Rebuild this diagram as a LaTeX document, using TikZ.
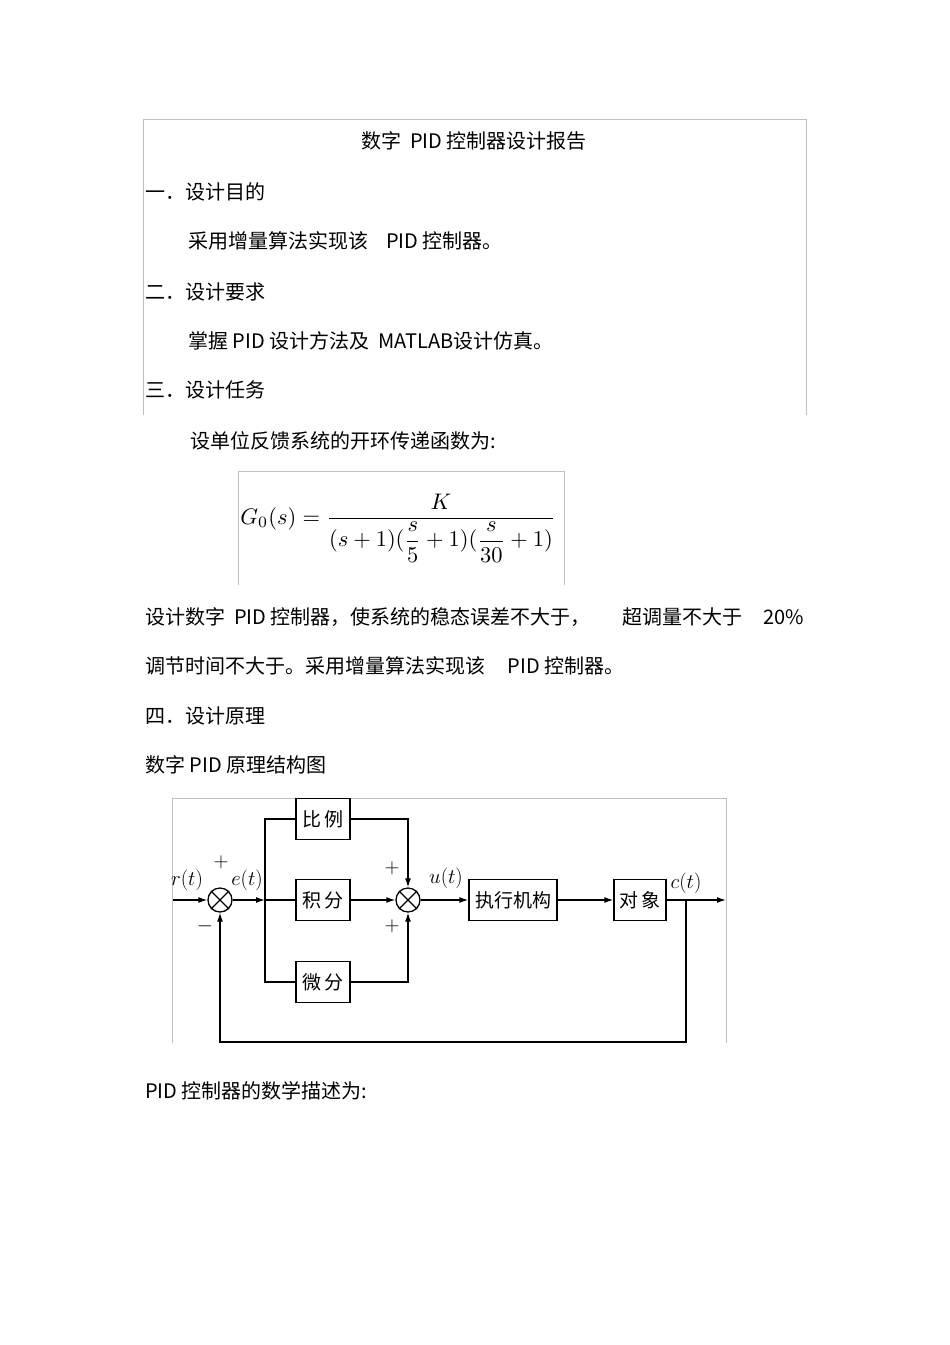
\documentclass[tikz,border=0pt]{standalone}
\usepackage{fontspec}
\setmainfont{Liberation Serif}
\newfontfamily\cjk{Noto Sans CJK SC}
\usetikzlibrary{arrows.meta}
\begin{document}
\begin{tikzpicture}[x=1pt,y=-1pt,
  txt/.style={anchor=west,inner sep=0,font=\cjk\fontsize{20}{22}\selectfont},
  blk/.style={draw,line width=1.3pt,minimum width=54pt,minimum height=41pt,inner sep=0,font=\cjk\fontsize{19}{22}\selectfont},
  sumj/.style={draw,circle,line width=1.3pt,minimum size=24pt,inner sep=0},
  sig/.style={line width=1.3pt,-{Latex[length=9pt,width=6pt]}},
  ln/.style={line width=1.3pt},
  lab/.style={inner sep=0,font=\fontsize{20}{22}\selectfont},
  frame/.style={draw=black!25,line width=0.6pt}]
\useasboundingbox[fill=white] (0,0) rectangle (950,1345);
\draw[frame] (143,415) -- (143,119) -- (806,119) -- (806,415);
\node[inner sep=0,font=\cjk\fontsize{20}{22}\selectfont] (title) at (474,141) {数字\ \ PID 控制器设计报告};
\node[txt] (h1) at (145,192) {一．设计目的};
\node[txt] (p1) at (188,241) {采用增量算法实现该\ \ \ \ PID 控制器。};
\node[txt] (h2) at (145,292) {二．设计要求};
\node[txt] (p2) at (188,341) {掌握\ PID 设计方法及\ \ MATLAB设计仿真。};
\node[txt] (h3) at (145,390) {三．设计任务};
\node[txt] (p3) at (190,441) {设单位反馈系统的开环传递函数为:};
\draw[frame] (238,585) -- (238,471) -- (564,471) -- (564,585);
\node[inner sep=0] (eq) at (398,528)
  {\resizebox{315pt}{!}{$\displaystyle G_0(s)=\frac{K}{(s+1)(\displaystyle\frac{s}{5}+1)(\displaystyle\frac{s}{30}+1)}$}};
\node[txt] (p4a) at (145,617) {设计数字\ \ PID 控制器，使系统的稳态误差不大于，};
\node[txt] (p4b) at (622,617) {超调量不大于};
\node[txt] (p4c) at (763,617) {20\%};
\node[txt] (p5) at (145,666) {调节时间不大于。采用增量算法实现该\ \ \ \ \ PID 控制器。};
\node[txt] (h4) at (145,716) {四．设计原理};
\node[txt] (p6) at (145,765) {数字\ PID 原理结构图};
\draw[frame] (172,1043) -- (172,798) -- (726,798) -- (726,1043);
% diagram
\coordinate (in) at (173,900);
\node[sumj] (s1) at (220,900) {};
\draw[ln] (s1.north west)--(s1.south east) (s1.north east)--(s1.south west);
\node[sumj] (s2) at (408,900) {};
\draw[ln] (s2.north west)--(s2.south east) (s2.north east)--(s2.south west);
\node[blk] (bp) at (323,819) {比\,例};
\node[blk] (bi) at (323,900) {积\,分};
\node[blk] (bd) at (323,982) {微\,分};
\node[blk,minimum width=88pt] (act) at (513,900) {执行机构};
\node[blk,minimum width=52pt] (obj) at (640,900) {对\,象};
\coordinate (br) at (265,900);
\coordinate (out) at (726,900);
\coordinate (tap) at (686,900);
\draw[sig] (in) -- (s1);
\draw[sig] (s1) -- (br);
\draw[ln] (br) -- (bi);
\draw[ln] (bp.west) -| (br) |- (bd.west);
\draw[sig] (bp.east) -| (s2.north);
\draw[sig] (bi) -- (s2);
\draw[sig] (bd.east) -| (s2.south);
\draw[sig] (s2) -- (act);
\draw[sig] (act) -- (obj);
\draw[sig] (obj) -- (out);
\draw[sig] (tap) -- (686,1042) -| (s1.south);
\node[lab] (lr) at (187,880) {$r(t)$};
\node[lab] (lp1) at (221,862) {$+$};
\node[lab] (le) at (247,880) {$e(t)$};
\node[lab] (lm) at (205,926) {$-$};
\node[lab] (lp2) at (392,868) {$+$};
\node[lab] (lp3) at (392,926) {$+$};
\node[lab] (lu) at (446,878) {$u(t)$};
\node[lab] (lc) at (686,883) {$c(t)$};
\node[txt] (p7) at (145,1091) {PID 控制器的数学描述为:};
\end{tikzpicture}
\end{document}
